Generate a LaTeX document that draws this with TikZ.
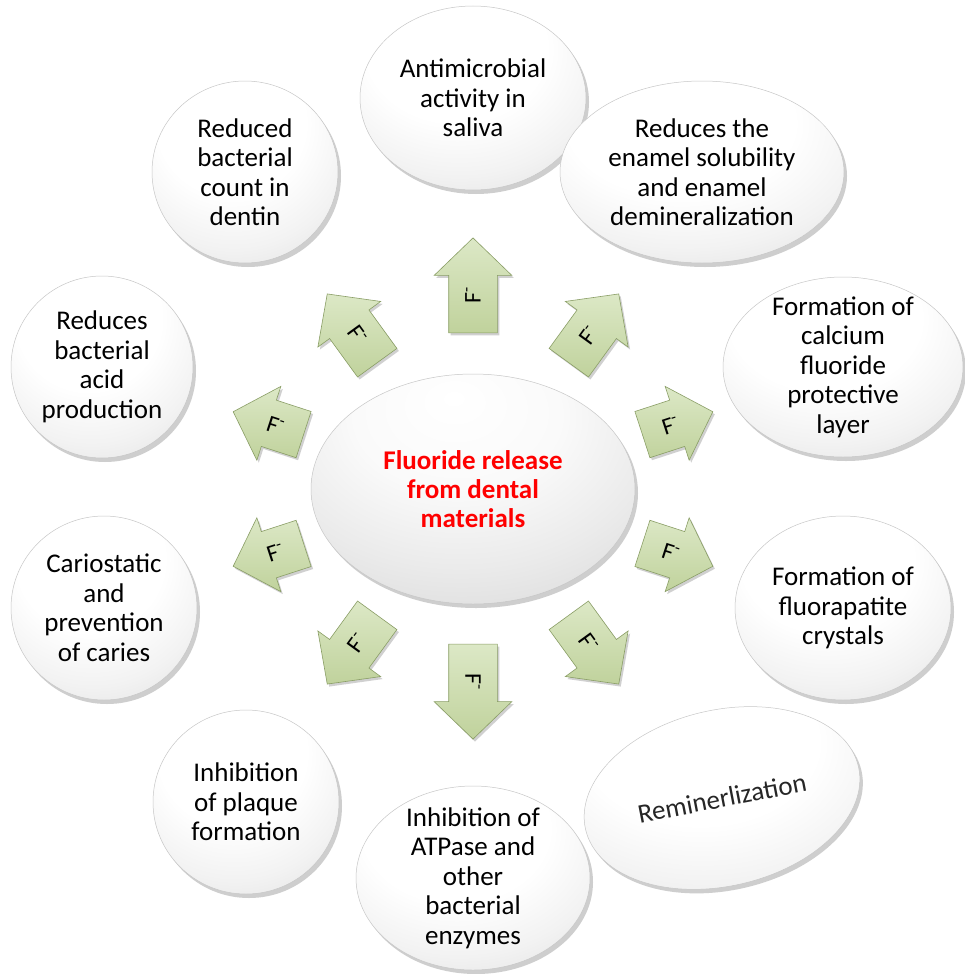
\documentclass[tikz,border=0pt]{standalone}
\usepackage{fontspec}
\setmainfont{Carlito}
\usetikzlibrary{shapes.geometric,shapes.arrows,shadows,calc}
\pgfdeclareradialshading{bubble}{\pgfpoint{-5bp}{18bp}}{color(0bp)=(white); color(20bp)=(white); color(32bp)=(black!5); color(42bp)=(black!11); color(50bp)=(black!19); color(58bp)=(black!29); color(66bp)=(black!39); color(80bp)=(black!45)}
\pgfdeclareradialshading{cbubble}{\pgfpoint{-3bp}{20bp}}{color(0bp)=(white); color(16bp)=(white!98!black); color(30bp)=(black!8); color(44bp)=(black!15); color(54bp)=(black!23); color(62bp)=(black!32); color(70bp)=(black!42); color(82bp)=(black!46)}
\definecolor{fgreen}{RGB}{192,210,156}
\definecolor{fgreenlight}{RGB}{220,232,198}
\definecolor{fgreendark}{RGB}{138,158,102}
\tikzset{
  bubble/.style={ellipse, shading=bubble, draw=black!22, line width=0.5pt, inner sep=0pt,
    drop shadow={shadow xshift=3pt, shadow yshift=-4pt, opacity=0.35, fill=black!55}},
  txt/.style={align=center, font=\fontsize{27}{29.5}\selectfont, inner sep=0pt, text=black},
  farrow/.style={single arrow, single arrow head extend=14.5pt, single arrow tip angle=92,
    inner xsep=0pt, inner ysep=24pt, left color=fgreenlight, right color=fgreen, shading angle=0,
    draw=fgreendark, line width=0.6pt,
    drop shadow={shadow xshift=2pt, shadow yshift=-2.5pt, opacity=0.3, fill=black!60}},
  flabel/.style={font=\fontsize{24}{26}\selectfont, inner sep=0pt, text=black}
}
\begin{document}
\begin{tikzpicture}[x=1pt,y=-1pt]
\useasboundingbox (0,0) rectangle (965,974);
\fill[white] (0,0) rectangle (965,974);

% outer bubbles
\node[bubble, minimum width=226pt, minimum height=184pt] (n1) at (473,98) {};
\node[bubble, minimum width=284pt, minimum height=182pt] (n2) at (702,172) {};
\node[bubble, minimum width=240pt, minimum height=180pt] (n3) at (843,367) {};
\node[bubble, minimum width=216pt, minimum height=184pt] (n4) at (843,608) {};
\node[bubble, minimum width=280pt, minimum height=176pt, rotate=13] (n5) at (722,798) {};
\node[bubble, minimum width=234pt, minimum height=184pt] (n6) at (473,878) {};
\node[bubble, minimum width=186pt, minimum height=184pt] (n7) at (246,802) {};
\node[bubble, minimum width=186pt, minimum height=184pt] (n8) at (104,608) {};
\node[bubble, minimum width=182pt, minimum height=182pt] (n9) at (102,367) {};
\node[bubble, minimum width=186pt, minimum height=182pt] (n10) at (245,172) {};

\node[txt] (t1) at (n1) {Antimicrobial\\activity in\\saliva};
\node[txt] (t2) at (n2) {Reduces the\\enamel solubility\\and enamel\\demineralization};
\node[txt] (t3) at (n3) {Formation of\\calcium\\fluoride\\protective\\layer};
\node[txt] (t4) at (n4) {Formation of\\fluorapatite\\crystals};
\node[txt, rotate=11, text=black!85] (t5) at (n5) {Reminerlization};
\node[txt] (t6) at (n6) {Inhibition of\\ATPase and\\other\\bacterial\\enzymes};
\node[txt] (t7) at (n7) {Inhibition\\of plaque\\formation};
\node[txt] (t8) at (n8) {Cariostatic\\and\\prevention\\of caries};
\node[txt] (t9) at (n9) {Reduces\\bacterial\\acid\\production};
\node[txt] (t10) at (n10) {Reduced\\bacterial\\count in\\dentin};

% center
\node[bubble, shading=cbubble, minimum width=324pt, minimum height=230pt] (c) at (473,489) {};
\node[txt, font=\fontsize{27}{29}\selectfont\bfseries, text=red] (tc) at (c) {Fluoride release\\from dental\\materials};

% arrows
\node[farrow, minimum height=95pt, rotate=90, anchor=tip] (a1) at (473,237.5) {};
\node[farrow, minimum height=85pt, rotate=54, anchor=tip] (a2) at (619,293.6) {};
\node[farrow, minimum height=74pt, rotate=18, anchor=tip] (a3) at (713.2,411.6) {};
\node[farrow, minimum height=74pt, rotate=-18, anchor=tip] (a4) at (713.2,566.4) {};
\node[farrow, minimum height=85pt, rotate=-54, anchor=tip] (a5) at (619,684.4) {};
\node[farrow, minimum height=95pt, rotate=-90, anchor=tip] (a6) at (473,739.5) {};
\node[farrow, minimum height=85pt, rotate=-126, anchor=tip] (a7) at (327,684.4) {};
\node[farrow, minimum height=74pt, rotate=-162, anchor=tip] (a8) at (232.8,566.4) {};
\node[farrow, minimum height=74pt, rotate=162, anchor=tip] (a9) at (232.8,411.6) {};
\node[farrow, minimum height=85pt, rotate=126, anchor=tip] (a10) at (327,293.6) {};

\node[flabel, rotate=90] (f1) at ($(a1.tip)!0.6!(a1.tail)$) {F\textsuperscript{-}};
\node[flabel, rotate=54] (f2) at ($(a2.tip)!0.6!(a2.tail)$) {F\textsuperscript{-}};
\node[flabel, rotate=18] (f3) at ($(a3.tip)!0.6!(a3.tail)$) {F\textsuperscript{-}};
\node[flabel, rotate=-18] (f4) at ($(a4.tip)!0.6!(a4.tail)$) {F\textsuperscript{-}};
\node[flabel, rotate=-54] (f5) at ($(a5.tip)!0.6!(a5.tail)$) {F\textsuperscript{-}};
\node[flabel, rotate=-90] (f6) at ($(a6.tip)!0.6!(a6.tail)$) {F\textsuperscript{-}};
\node[flabel, rotate=54] (f7) at ($(a7.tip)!0.6!(a7.tail)$) {F\textsuperscript{-}};
\node[flabel, rotate=18] (f8) at ($(a8.tip)!0.6!(a8.tail)$) {F\textsuperscript{-}};
\node[flabel, rotate=-18] (f9) at ($(a9.tip)!0.6!(a9.tail)$) {F\textsuperscript{-}};
\node[flabel, rotate=-54] (f10) at ($(a10.tip)!0.6!(a10.tail)$) {F\textsuperscript{-}};
\end{tikzpicture}
\end{document}
